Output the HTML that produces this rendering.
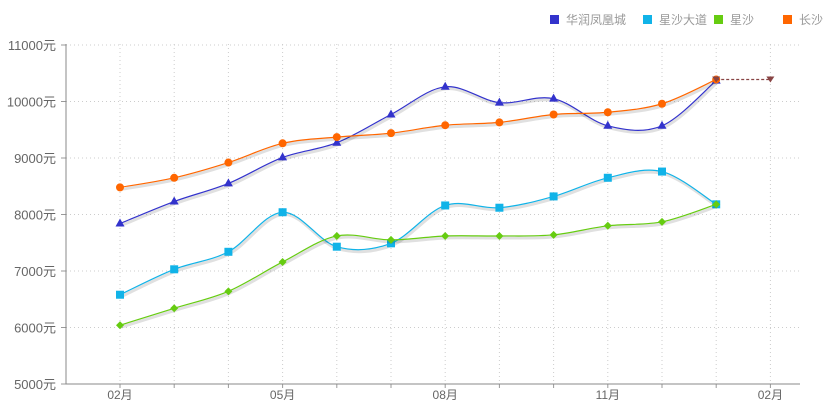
<!DOCTYPE html>
<html><head><meta charset="utf-8"><style>
body{margin:0;background:#fff;font-family:"Liberation Sans","Noto Sans CJK SC",sans-serif}
svg text{font-family:"Liberation Sans","Noto Sans CJK SC",sans-serif}
</style></head><body>
<svg id="chart" width="826" height="409" xmlns="http://www.w3.org/2000/svg"></svg>
<script>
const categories=["02月","03月","04月","05月","06月","07月","08月","09月","10月","11月","12月","01月","02月"];
const xTickLabels=["02月","05月","08月","11月","02月"];
const xTickIndex=[0,3,6,9,12];
const yTicks=[5000,6000,7000,8000,9000,10000,11000];
const seriesNames=["华润凤凰城","星沙大道","星沙","长沙"];
const seriesColors=["#3333cc","#11b3e8","#66cc11","#ff6600"];
const huarun=[7840,8230,8550,9010,9270,9770,10260,9980,10050,9570,9570,10370];
const xingshaDadao=[6580,7030,7340,8040,7430,7490,8160,8120,8320,8650,8760,8180];
const xingsha=[6040,6340,6640,7160,7620,7550,7620,7620,7640,7800,7870,8180];
const changsha=[8480,8650,8920,9260,9370,9440,9580,9630,9770,9810,9960,10390];
const forecast=[10390,10390];
const NS="http://www.w3.org/2000/svg";
const svg=document.getElementById('chart');
const X=i=>120+i*54.2;
const Y=v=>214.5-(v-8000)*0.0565;
function el(t,a,p){const e=document.createElementNS(NS,t);for(const k in a)e.setAttribute(k,a[k]);(p||svg).appendChild(e);return e;}
yTicks.forEach(v=>{
  if(v>5000){const g=el('line',{x1:66,x2:800,y1:Y(v),y2:Y(v),stroke:'#ccc','stroke-dasharray':'1,3'});
  
  }
  const t=el('text',{x:56,y:Y(v)+5,'text-anchor':'end','font-size':13,fill:'#666'});t.textContent=v+'元';
  
  
  el('line',{x1:61,x2:66,y1:Y(v),y2:Y(v),stroke:'#999'});
});
categories.forEach((c,i)=>{
  const g=el('line',{x1:X(i),x2:X(i),y1:44,y2:384,stroke:'#ccc','stroke-dasharray':'1,3'});
  
  
  el('line',{x1:X(i),x2:X(i),y1:384,y2:388,stroke:'#999'});
});
xTickIndex.forEach((idx,k)=>{
  const t=el('text',{x:X(idx),y:399,'text-anchor':'middle','font-size':12,fill:'#666'});t.textContent=xTickLabels[k];
  
  
});
const ax=el('path',{d:'M66,44V384H800',fill:'none',stroke:'#888'});


function smooth(pts){let d='M'+pts[0][0]+','+pts[0][1];
  for(let i=0;i<pts.length-1;i++){const p0=pts[i-1]||pts[i],p1=pts[i],p2=pts[i+1],p3=pts[i+2]||p2;
    const c1=[p1[0]+(p2[0]-p0[0])/6,p1[1]+(p2[1]-p0[1])/6],c2=[p2[0]-(p3[0]-p1[0])/6,p2[1]-(p3[1]-p1[1])/6];
    d+=`C${c1},${c2},${p2}`;}return d;}
const all=[huarun,xingshaDadao,xingsha,changsha];
const shapes=['tri','sq','dia','circ'];
all.forEach((data,s)=>{
  const pts=data.map((v,i)=>[X(i),Y(v)]);
  el('path',{d:smooth(pts),fill:'none',stroke:'rgba(0,0,0,0.12)','stroke-width':3,transform:'translate(1,2)'});
  const p=el('path',{d:smooth(pts),fill:'none',stroke:seriesColors[s],'stroke-width':1.2});
  
  
  pts.forEach(([x,y])=>{let m;const c=seriesColors[s];
    if(shapes[s]=='tri')m=el('path',{d:`M${x},${y-5}L${x+4.5},${y+3}L${x-4.5},${y+3}Z`,fill:c});
    else if(shapes[s]=='sq')m=el('rect',{x:x-4,y:y-4,width:8,height:8,fill:c});
    else if(shapes[s]=='dia')m=el('path',{d:`M${x},${y-4}L${x+4},${y}L${x},${y+4}L${x-4},${y}Z`,fill:c});
    else m=el('circle',{cx:x,cy:y,r:4,fill:c});
    
    
  });
});
const fx=[X(11),X(12)];
const fl=el('line',{x1:fx[0],x2:fx[1],y1:Y(forecast[0]),y2:Y(forecast[1]),stroke:'#884444','stroke-dasharray':'3,2','stroke-width':1.2});


forecast.forEach((v,i)=>{const x=fx[i],y=Y(v);
  const m=el('path',{d:`M${x-4},${y-3}L${x+4},${y-3}L${x},${y+3}Z`,fill:'#884444'});
  
  
});
const lx=[550,643,714,783];
seriesNames.forEach((n,i)=>{
  const g=el('g',{});
  
  
  el('rect',{x:lx[i],y:15,width:9,height:9,fill:seriesColors[i]},g);
  const t=el('text',{x:lx[i]+16,y:24,'font-size':12,fill:'#999'},g);t.textContent=n;
});
</script>
</body></html>
